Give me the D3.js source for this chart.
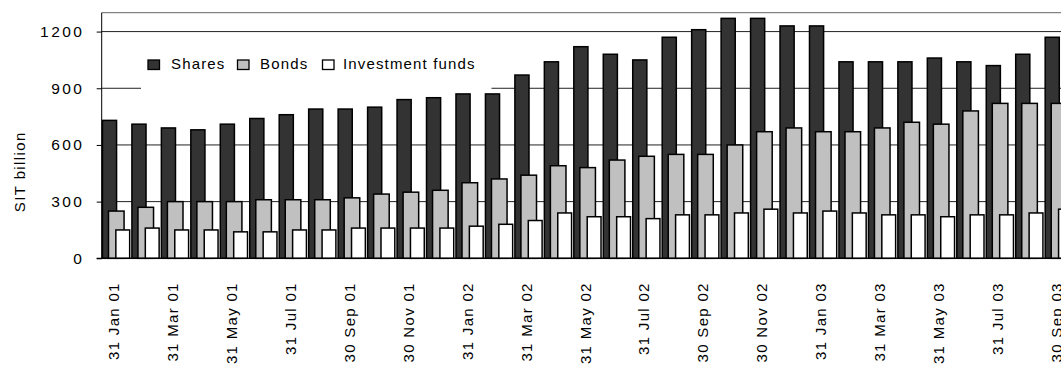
<!DOCTYPE html>
<html>
<head>
<meta charset="utf-8">
<script src="https://cdn.jsdelivr.net/npm/d3@7/dist/d3.min.js"></script>
<style>
  html, body { margin: 0; padding: 0; background: #fff; overflow: hidden; }
  svg { display: block; font-family: "Liberation Sans", Arial, sans-serif; }
</style>
</head>
<body>
<svg id="chart" width="1061" height="365"></svg>
<script>
// ---- data ----
const months = [
  "31 Jan 01","28 Feb 01","31 Mar 01","30 Apr 01","31 May 01","30 Jun 01",
  "31 Jul 01","31 Aug 01","30 Sep 01","31 Oct 01","30 Nov 01","31 Dec 01",
  "31 Jan 02","28 Feb 02","31 Mar 02","30 Apr 02","31 May 02","30 Jun 02",
  "31 Jul 02","31 Aug 02","30 Sep 02","31 Oct 02","30 Nov 02","31 Dec 02",
  "31 Jan 03","28 Feb 03","31 Mar 03","30 Apr 03","31 May 03","30 Jun 03",
  "31 Jul 03","31 Aug 03","30 Sep 03"
];
const shares = [730,710,690,680,710,740,760,790,790,800,840,850,870,870,970,1040,1120,1080,1050,1170,1210,1270,1270,1230,1230,1040,1040,1040,1060,1040,1020,1080,1170];
const bonds  = [250,270,300,300,300,310,310,310,320,340,350,360,400,420,440,490,480,520,540,550,550,600,670,690,670,670,690,720,710,780,820,820,820];
const funds  = [150,160,150,150,140,140,150,150,160,160,160,160,170,180,200,240,220,220,210,230,230,240,260,240,250,240,230,230,220,230,230,240,260];
const seriesNames = ["Shares", "Bonds", "Investment funds"];
const yTicks = [0, 300, 600, 900, 1200];
const yMax = 1300;
const yTitle = "SIT billion";

// ---- layout ----
const svg = d3.select("#chart");
const plotLeft = 101.7, plotTop = 12.7, plotBottom = 258.3;
const step = 29.46;
const x = d3.scaleBand().domain(months).range([plotLeft, plotLeft + months.length * step]).paddingInner(0).paddingOuter(0);
const y = d3.scaleLinear().domain([0, yMax]).range([plotBottom, plotTop]);
const bw = x.bandwidth();

// y ticks + labels
const yAxis = d3.axisLeft(y).tickValues(yTicks).tickSize(5).tickFormat(d3.format("d"));
const gy = svg.append("g").attr("transform", `translate(${plotLeft},0)`).call(yAxis);
gy.select(".domain").remove();
gy.selectAll(".tick line").attr("stroke", "#000").attr("stroke-width", 1);
gy.selectAll(".tick text")
  .attr("x", -17.5)
  .attr("fill", "#000")
  .style("font-size", "15.5px")
  .style("letter-spacing", "2.4px")
  .attr("font-family", "Liberation Sans, Arial, sans-serif");

// gridlines
const grid = svg.append("g");
grid.selectAll("line").data(yTicks).join("line")
  .attr("x1", plotLeft).attr("x2", 1061)
  .attr("y1", d => y(d)).attr("y2", d => y(d))
  .attr("stroke", "#222").attr("stroke-width", 1);
// top border of plot
svg.append("line").attr("x1", plotLeft).attr("x2", 1061).attr("y1", y(yMax)).attr("y2", y(yMax))
  .attr("stroke", "#666").attr("stroke-width", 1);

// legend background (hides gridline behind)
svg.append("rect").attr("x", 141).attr("y", 42).attr("width", 350.5).attr("height", 49).attr("fill", "#fff");

// bars
const specs = [
  { data: shares, fill: "#333333", off: 0.0,  w: 0.53 },
  { data: bonds,  fill: "#c0c0c0", off: 0.205, w: 0.58 },
  { data: funds,  fill: "#ffffff", off: 0.455, w: 0.52 }
];
specs.forEach(s => {
  svg.append("g").selectAll("rect").data(months).join("rect")
    .attr("x", (m) => x(m) + s.off * bw + 0.75)
    .attr("width", s.w * bw - 1.5)
    .attr("y", (m, i) => y(s.data[i]))
    .attr("height", (m, i) => y(0) - y(s.data[i]))
    .attr("fill", s.fill)
    .attr("stroke", "#000")
    .attr("stroke-width", 1.5);
});

// axes lines
svg.append("line").attr("x1", plotLeft).attr("x2", plotLeft).attr("y1", y(yMax)).attr("y2", y(0))
  .attr("stroke", "#000").attr("stroke-width", 1);
svg.append("line").attr("x1", plotLeft - 5).attr("x2", 1061).attr("y1", y(0)).attr("y2", y(0))
  .attr("stroke", "#000").attr("stroke-width", 1.2);

// x labels (every other month)
const xAxis = d3.axisBottom(x).tickSize(0).tickValues(months.filter((m, i) => i % 2 === 0));
const gx = svg.append("g").attr("transform", `translate(0,${y(0)})`).call(xAxis);
gx.select(".domain").remove();
gx.selectAll(".tick text")
  .attr("transform", "translate(-2.5, 24) rotate(-90)")
  .attr("x", 0).attr("y", 0).attr("dy", "0.35em")
  .attr("text-anchor", "end")
  .attr("fill", "#000")
  .style("font-size", "15px")
  .style("letter-spacing", "1.3px")
  .attr("font-family", "Liberation Sans, Arial, sans-serif");

// y title
svg.append("text")
  .attr("transform", `translate(25, 171.7) rotate(-90)`)
  .attr("text-anchor", "middle")
  .style("font-size", "15px")
  .style("letter-spacing", "1.4px")
  .text(yTitle);

// legend
const legX = [148, 237.5, 322.5];
const legTx = [171, 260, 343];
const legend = svg.append("g");
seriesNames.forEach((n, i) => {
  legend.append("rect").attr("x", legX[i]).attr("y", 60).attr("width", 11.5).attr("height", 9.5)
    .attr("fill", specs[i].fill).attr("stroke", "#000").attr("stroke-width", 1.3);
  legend.append("text").attr("x", legTx[i]).attr("y", 69.3)
    .style("font-size", "15px").style("letter-spacing", "1.15px").text(n);
});
</script>
</body>
</html>
